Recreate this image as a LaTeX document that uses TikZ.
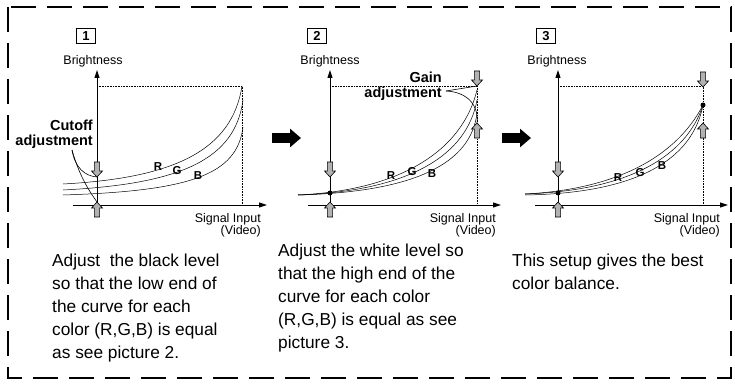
\documentclass[tikz,border=0pt]{standalone}
\usepackage{fontspec}
\setmainfont{Liberation Sans}
\usetikzlibrary{arrows.meta}

\tikzset{
  frame/.style={line width=2pt, dash pattern=on 25pt off 11pt},
  axis/.style={line width=1pt, -{Triangle[length=8pt 0 0,width=5pt 0 0]}},
  guide/.style={densely dotted, line width=.6pt},
  curve/.style={line width=.5pt},
  leader/.style={line width=.6pt},
  grayarrow/.pic={\draw[fill=black!30, line width=.6pt, line join=miter]
    (0,0) -- (-5.5,6) -- (-2.6,6) -- (-2.6,15) -- (2.6,15) -- (2.6,6) -- (5.5,6) -- cycle;},
  bigarrow/.style={line width=10pt, -{Triangle[length=11pt 0 0,width=18pt 0 0]}},
  numbox/.style={draw, line width=.8pt, minimum width=19pt, minimum height=15pt,
    inner sep=0pt, font=\bfseries\fontsize{13}{12}\selectfont},
  axlabel/.style={font=\fontsize{12.5}{12.5}\selectfont, inner sep=0pt, align=right},
  adjlabel/.style={font=\bfseries\fontsize{14.5}{15}\selectfont, inner sep=0pt, align=right},
  rgb/.style={font=\bfseries\fontsize{11.5}{11}\selectfont, inner sep=0pt},
  note/.style={font=\fontsize{17.3}{23}\selectfont, align=left, anchor=north west, inner sep=0pt},
  dot/.style={circle, fill, inner sep=0pt, minimum size=5pt}
}

\begin{document}
\begin{tikzpicture}[x=1pt,y=-1pt]
  \useasboundingbox (0,0) rectangle (735,385);
  \draw[frame] (8,7) rectangle (731,378);

  % panel 1
  \node[numbox] (num1) at (86,36) {1};
  \coordinate (o1) at (97,205); \coordinate (ytop1) at (97,70);
  \coordinate (xs1) at (73,205); \coordinate (xe1) at (267,205);
  \coordinate (c1) at (242,86);
  \draw[guide] (97,86) -- (c1) -- (242,205);
  \draw[axis] (o1) -- (ytop1);
  \draw[axis] (xs1) -- (xe1);
  \node[axlabel] (br1) at (93,61) {Brightness};
  \node[axlabel, anchor=north east] (sig1) at (261,213) {Signal Input\\(Video)};
  \draw[curve] (63,184) .. controls (175,178) and (232,150) .. (c1);
  \draw[curve] (63,190) .. controls (180,184) and (235,160) .. (243,100);
  \draw[curve] (63,195) .. controls (190,191) and (237,175) .. (243,127);
  \node[rgb] (r1) at (158,167) {R};
  \node[rgb] (g1) at (177,171) {G};
  \node[rgb] (b1) at (198,176) {B};
  \coordinate (dn1) at (97,177); \coordinate (up1) at (97,202);
  \pic[rotate=180] at (dn1) {grayarrow};
  \pic at (up1) {grayarrow};
  \node[adjlabel, anchor=east] (cut) at (93,134) {Cutoff\\adjustment};
  \coordinate (cutfoot) at (72,150);
  \draw[leader] (cutfoot) .. controls (75,168) and (85,176) .. (dn1);
  \draw[leader] (cutfoot) .. controls (80,178) and (90,192) .. (up1);
  \node[note] (txt1) at (52,254) {Adjust\ \ the black level\\so that the low end of\\the curve for each\\color (R,G,B) is equal\\as see picture 2.};

  \coordinate (go12a) at (272,138); \coordinate (go12b) at (301,138);
  \draw[bigarrow] (go12a) -- (go12b);

  % panel 2
  \node[numbox] (num2) at (317,36) {2};
  \coordinate (o2) at (330,205); \coordinate (ytop2) at (330,70);
  \coordinate (xs2) at (308,205); \coordinate (xe2) at (501,205);
  \coordinate (c2) at (477,86);
  \draw[guide] (330,86) -- (c2) -- (477,205);
  \draw[axis] (o2) -- (ytop2);
  \draw[axis] (xs2) -- (xe2);
  \node[axlabel] (br2) at (330,61) {Brightness};
  \node[axlabel, anchor=north east] (sig2) at (496,213) {Signal Input\\(Video)};
  \draw[curve] (298,195) .. controls (405,190) and (463,148) .. (477,90);
  \draw[curve] (298,195) .. controls (410,191) and (467,155) .. (477,100);
  \draw[curve] (298,195) .. controls (416,192) and (471,163) .. (477,113);
  \node[dot] (p2) at (330,193) {};
  \node[rgb] (r2) at (391,176) {R};
  \node[rgb] (g2) at (412,172) {G};
  \node[rgb] (b2) at (432,174) {B};
  \coordinate (dn2) at (330,177); \coordinate (up2) at (330,202);
  \coordinate (gdn2) at (477,86); \coordinate (gup2) at (477,123);
  \pic[rotate=180] at (dn2) {grayarrow};
  \pic at (up2) {grayarrow};
  \pic[rotate=180] at (gdn2) {grayarrow};
  \pic at (gup2) {grayarrow};
  \node[adjlabel, anchor=east] (gain) at (442,86) {Gain\\adjustment};
  \coordinate (gainfoot) at (446,91);
  \draw[leader] (gainfoot) -- (gdn2);
  \draw[leader] (gainfoot) .. controls (468,92) and (479,106) .. (gup2);
  \node[note] (txt2) at (278,244) {Adjust the white level so\\that the high end of the\\curve for each color\\(R,G,B) is equal as see\\picture 3.};

  \coordinate (go23a) at (502,138); \coordinate (go23b) at (531,138);
  \draw[bigarrow] (go23a) -- (go23b);

  % panel 3
  \node[numbox] (num3) at (546,36) {3};
  \coordinate (o3) at (558,205); \coordinate (ytop3) at (558,70);
  \coordinate (xs3) at (535,205); \coordinate (xe3) at (728,205);
  \coordinate (c3) at (703,86);
  \draw[guide] (558,86) -- (c3) -- (703,205);
  \draw[axis] (o3) -- (ytop3);
  \draw[axis] (xs3) -- (xe3);
  \node[axlabel] (br3) at (557,61) {Brightness};
  \node[axlabel, anchor=north east] (sig3) at (720,213) {Signal Input\\(Video)};
  \coordinate (w3) at (703,105);
  \draw[curve] (525,194) .. controls (640,188) and (685,140) .. (w3);
  \draw[curve] (525,194) .. controls (645,190) and (690,146) .. (w3);
  \draw[curve] (525,195) .. controls (650,193) and (694,152) .. (w3);
  \node[dot] (p3) at (558,193) {};
  \node[dot] (q3) at (w3) {};
  \node[rgb] (r3) at (618,178) {R};
  \node[rgb] (g3) at (640,173) {G};
  \node[rgb] (b3) at (662,166) {B};
  \coordinate (dn3) at (558,177); \coordinate (up3) at (558,202);
  \coordinate (gdn3) at (703,87); \coordinate (gup3) at (703,123);
  \pic[rotate=180] at (dn3) {grayarrow};
  \pic at (up3) {grayarrow};
  \pic[rotate=180] at (gdn3) {grayarrow};
  \pic at (gup3) {grayarrow};
  \node[note] (txt3) at (512,254) {This setup gives the best\\color balance.};
\end{tikzpicture}
\end{document}
